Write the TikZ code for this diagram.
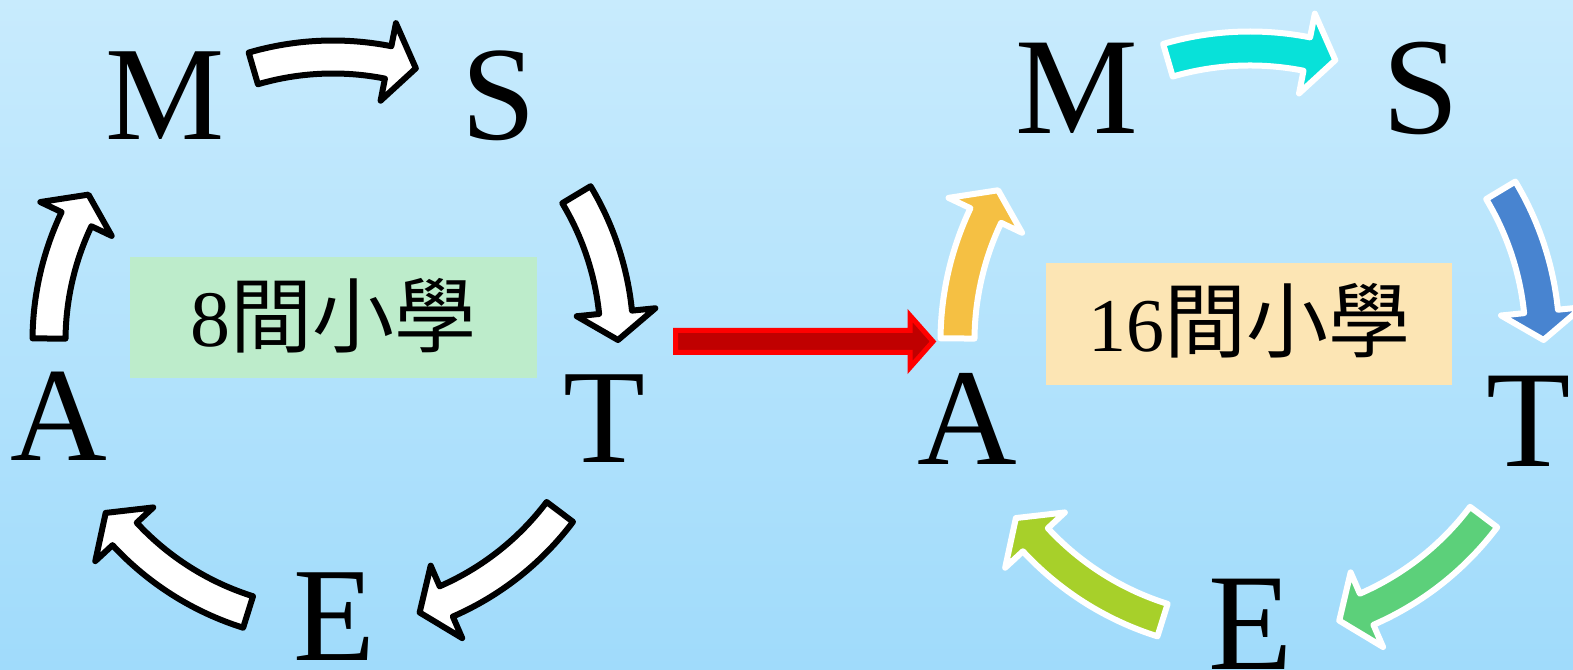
\documentclass[tikz,border=0pt]{standalone}
\usepackage{fontspec}
\setmainfont{Liberation Serif}
\newfontfamily\cjk{Noto Sans CJK TC}

\definecolor{bgtop}{RGB}{200,235,253}
\definecolor{bgbot}{RGB}{160,219,251}
\definecolor{boxgreen}{RGB}{189,236,203}
\definecolor{boxorange}{RGB}{252,229,180}
\definecolor{acyan}{RGB}{8,225,217}
\definecolor{ablue}{RGB}{72,132,208}
\definecolor{agreen}{RGB}{92,208,122}
\definecolor{alime}{RGB}{167,208,42}
\definecolor{aorange}{RGB}{245,192,67}
\definecolor{darkred}{RGB}{192,0,0}

\tikzset{
  letter/.style={anchor=base, inner sep=0pt, font=\fontsize{134}{134}\selectfont},
  ringarrowline/.style={line width=6pt, line join=round},
  schoolbox/.style={inner sep=0pt, minimum width=407pt, minimum height=121pt},
  bigarrow/.style={fill=darkred, draw=red, line width=5pt, line join=miter}
}

% one curved block arrow on the ring: tail angle, head base angle, tip angle, fill, outline
\newcommand\ringarrow[5]{%
  \filldraw[ringarrowline, fill=#4, draw=#5]
    (#1:300.5) arc[start angle=#1, end angle=#2, radius=300.5]
    -- (#2:324) -- (#3:285) -- (#2:245) -- (#2:267.5)
    arc[start angle=#2, end angle=#1, radius=267.5] -- cycle;}

% the M-S-T-E-A ring: name suffix, centre, scale, outline, five fills
\newcommand\matering[9]{%
  \begin{scope}[shift={#2}, scale=#3, transform shape]
    \node[letter] (M#1) at (-168,201) {M};
    \node[letter] (S#1) at (166,201) {S};
    \node[letter] (T#1) at (271,-122) {T};
    \node[letter] (E#1) at (1,-319) {E};
    \node[letter] (A#1) at (-274,-120) {A};
    \ringarrow{106.3}{78.8}{73.1}{#5}{#4}
    \ringarrow{31.0}{5.8}{0.2}{#6}{#4}
    \ringarrow{-37.0}{-66.5}{-72.3}{#7}{#4}
    \ringarrow{-107.4}{-137.2}{-142.9}{#8}{#4}
    \ringarrow{179.5}{154.6}{149.1}{#9}{#4}
  \end{scope}}

\begin{document}
\begin{tikzpicture}[x=1pt, y=1pt]
  \useasboundingbox (0,0) rectangle (1573,669);
  \shade[top color=bgtop, bottom color=bgbot] (0,0) rectangle (1573,669);

  % school boxes
  \node[schoolbox, fill=boxgreen, text height=65pt, text depth=6pt] (box1) at (333.5,351.5)
    {\fontsize{80}{80}\selectfont 8{\cjk\fontsize{82}{82}\selectfont 間小學}};
  \node[schoolbox, fill=boxorange, minimum width=406pt, minimum height=122pt,
        text height=62pt, text depth=6pt] (box2) at (1249,345)
    {\fontsize{76}{76}\selectfont 16{\cjk\fontsize{82}{82}\selectfont 間小學}};

  % rings
  \matering{1}{(333,328)}{1}{black}{white}{white}{white}{white}{white}
  \matering{2}{(1250,328)}{1.03}{white}{acyan}{ablue}{agreen}{alime}{aorange}

  % growth arrow between the rings
  \filldraw[bigarrow] (675.5,338.5) -- (910,338.5) -- (910,353.5) -- (933,327.5)
    -- (910,301.5) -- (910,316.5) -- (675.5,316.5) -- cycle;
\end{tikzpicture}
\end{document}
